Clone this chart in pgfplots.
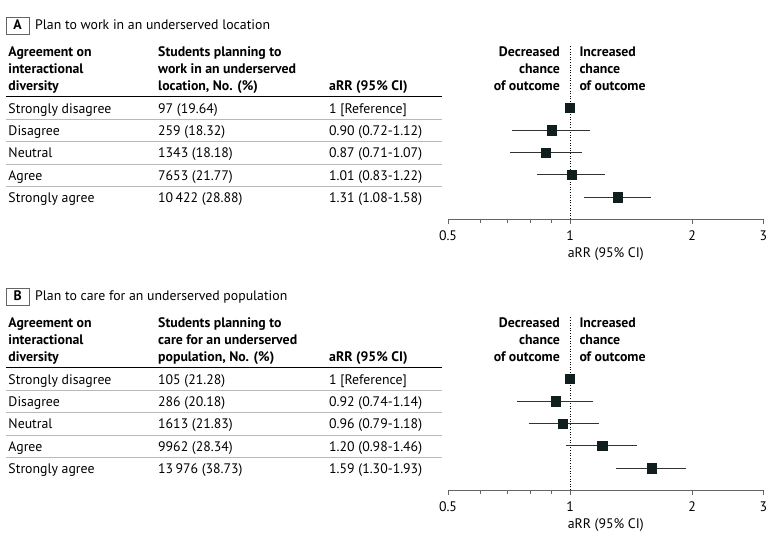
\documentclass[border=0pt]{standalone}
\usepackage{fontspec}
\setmainfont{PT Sans}
\usepackage{pgfplots}
\pgfplotsset{compat=1.18}
\definecolor{mk}{RGB}{16,30,30}
\definecolor{sep}{RGB}{185,185,185}
\definecolor{axg}{RGB}{100,100,100}
\newcommand\fs{\fontsize{13.8pt}{17pt}\selectfont}
\pgfplotsset{forestax/.style={
  scale only axis, width=315.5pt, height=174pt,
  xmin=0.5, xmax=3, ymin=-4.97, ymax=2.8,
  axis x line=bottom, axis y line=none, x axis line style={-},
  xtick={0.5,1,2,3}, xticklabels={0.5,1,2,3},
  minor xtick={0.6,0.7,0.8,0.9},
  tick align=outside, major tick length=5pt, minor tick length=4pt,
  axis line style={axg, line width=0.8pt}, every tick/.style={axg, line width=0.8pt},
  /pgf/number format/assume math mode=true,
  tick label style={font=\fs},
  xticklabel style={anchor=base, yshift=-16pt},
  xlabel={aRR (95\% CI)}, label style={font=\fs},
  xlabel style={at={(axis description cs:0.5,0)}, anchor=base, yshift=-38pt},
  clip=false,
},
refline/.style={black, line width=0.7pt, dash pattern=on 1pt off 1.6pt, forget plot},
ci/.style={black!80, line width=0.8pt, forget plot},
rrpt/.style={only marks, mark=square*, mark size=4.6pt, mark options={fill=mk, draw=mk}}
}
\tikzset{txt/.style={anchor=base west, inner sep=0pt, font=\fs},
  hdr/.style={anchor=base west, inner sep=0pt, font=\fs\bfseries}}
\begin{document}
\begin{tikzpicture}
\path[use as bounding box] (0pt,0pt) rectangle (780pt,-544pt);
\begin{scope}[x=1pt,y=1pt]
% ---------- Panel A text ----------
\draw[axg, line width=0.8pt] (6,-17.5) rectangle (29.3,-34);
\node[anchor=base, inner sep=0pt, font=\fs\bfseries] at (17.6,-29.5) {A};
\node[txt] at (35,-29.5) {Plan to work in an underserved location};
\node[hdr] at (8.3,-56.7) {Agreement on};
\node[hdr] at (8.3,-73.7) {interactional};
\node[hdr] at (8.3,-90.7) {diversity};
\node[hdr] at (158,-56.7) {Students planning to};
\node[hdr] at (158,-73.7) {work in an underserved};
\node[hdr] at (158,-90.7) {location, No. (\%)};
\node[hdr] at (329,-90.7) {aRR (95\% CI)};
\node[hdr, anchor=base east] at (560,-56.7) {Decreased};
\node[hdr, anchor=base east] at (560,-73.7) {chance};
\node[hdr, anchor=base east] at (560,-90.7) {of outcome};
\node[hdr] at (579.3,-56.7) {Increased};
\node[hdr] at (579.3,-73.7) {chance};
\node[hdr] at (579.3,-90.7) {of outcome};
\draw[black, line width=1.2pt] (6,-96.7) -- (442,-96.7);
\foreach \k in {0,...,3} \draw[sep, line width=0.8pt] (6,{-119.2-22.4*\k}) -- (442,{-119.2-22.4*\k});
\foreach \a/\b/\c [count=\k from 0] in {Strongly disagree/97 (19.64)/1 [Reference],
  Disagree/259 (18.32)/0.90 (0.72-1.12), Neutral/1343 (18.18)/0.87 (0.71-1.07),
  Agree/7653 (21.77)/1.01 (0.83-1.22), Strongly agree/10\,422 (28.88)/1.31 (1.08-1.58)} {
  \node[txt] at (8.3,{-113-22.4*\k}) {\a};
  \node[txt] at (158,{-113-22.4*\k}) {\b};
  \node[txt] at (329,{-113-22.4*\k}) {\c};
}
\end{scope}
% ---------- Panel B text ----------
\begin{scope}[x=1pt,y=1pt,yshift=-271pt]
\draw[axg, line width=0.8pt] (6,-17.5) rectangle (29.3,-34);
\node[anchor=base, inner sep=0pt, font=\fs\bfseries] at (17.6,-29.5) {B};
\node[txt] at (35,-29.5) {Plan to care for an underserved population};
\node[hdr] at (8.3,-56.7) {Agreement on};
\node[hdr] at (8.3,-73.7) {interactional};
\node[hdr] at (8.3,-90.7) {diversity};
\node[hdr] at (158,-56.7) {Students planning to};
\node[hdr] at (158,-73.7) {care for an underserved};
\node[hdr] at (158,-90.7) {population, No. (\%)};
\node[hdr] at (329,-90.7) {aRR (95\% CI)};
\node[hdr, anchor=base east] at (560,-56.7) {Decreased};
\node[hdr, anchor=base east] at (560,-73.7) {chance};
\node[hdr, anchor=base east] at (560,-90.7) {of outcome};
\node[hdr] at (579.3,-56.7) {Increased};
\node[hdr] at (579.3,-73.7) {chance};
\node[hdr] at (579.3,-90.7) {of outcome};
\draw[black, line width=1.2pt] (6,-96.7) -- (442,-96.7);
\foreach \k in {0,...,3} \draw[sep, line width=0.8pt] (6,{-119.2-22.4*\k}) -- (442,{-119.2-22.4*\k});
\foreach \a/\b/\c [count=\k from 0] in {Strongly disagree/105 (21.28)/1 [Reference],
  Disagree/286 (20.18)/0.92 (0.74-1.14), Neutral/1613 (21.83)/0.96 (0.79-1.18),
  Agree/9962 (28.34)/1.20 (0.98-1.46), Strongly agree/13\,976 (38.73)/1.59 (1.30-1.93)} {
  \node[txt] at (8.3,{-113-22.4*\k}) {\a};
  \node[txt] at (158,{-113-22.4*\k}) {\b};
  \node[txt] at (329,{-113-22.4*\k}) {\c};
}
\end{scope}
% ---------- Panel A plot ----------
\begin{axis}[xmode=log, forestax, at={(448pt,-219pt)}, anchor=south west]
\addplot[refline] coordinates {(1,-4.97) (1,2.8)};
\addplot[ci] coordinates {(0.72,-1) (1.12,-1)};
\addplot[ci] coordinates {(0.71,-2) (1.07,-2)};
\addplot[ci] coordinates {(0.83,-3) (1.22,-3)};
\addplot[ci] coordinates {(1.08,-4) (1.58,-4)};
\addplot[rrpt] coordinates {(1,0) (0.90,-1) (0.87,-2) (1.01,-3) (1.31,-4)};
\end{axis}
% ---------- Panel B plot ----------
\begin{axis}[xmode=log, forestax, at={(448pt,-490pt)}, anchor=south west]
\addplot[refline] coordinates {(1,-4.97) (1,2.76)};
\addplot[ci] coordinates {(0.74,-1) (1.14,-1)};
\addplot[ci] coordinates {(0.79,-2) (1.18,-2)};
\addplot[ci] coordinates {(0.98,-3) (1.46,-3)};
\addplot[ci] coordinates {(1.30,-4) (1.93,-4)};
\addplot[rrpt] coordinates {(1,0) (0.92,-1) (0.96,-2) (1.20,-3) (1.59,-4)};
\end{axis}
\end{tikzpicture}
\end{document}
